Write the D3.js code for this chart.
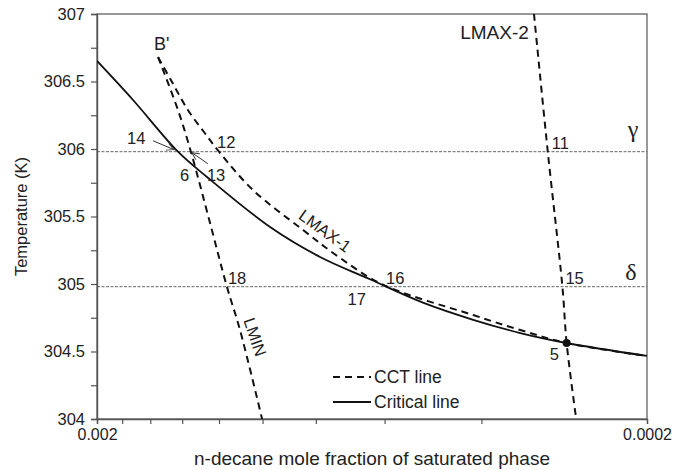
<!DOCTYPE html>
<html>
<head>
<meta charset="utf-8">
<script src="https://cdn.jsdelivr.net/npm/d3@7"></script>
<style>
  html, body { margin: 0; padding: 0; background: #fff; }
  svg { display: block; font-family: "Liberation Sans", Arial, sans-serif; }
</style>
</head>
<body>
<svg id="chart" width="686" height="470"></svg>
<script>
// Critical line of the mixture (solid)
const criticalX = [0.002, 0.00172, 0.001425, 0.001262, 0.000969, 0.000786, 0.000638, 0.000511, 0.000414, 0.00034, 0.00028, 0.0002];
const criticalT = [306.652, 306.363, 305.98, 305.793, 305.422, 305.2, 305.035, 304.862, 304.735, 304.637, 304.563, 304.467];

// CCT line branches (dashed)
const lminX = [0.001549, 0.001425, 0.00135, 0.001246, 0.001161, 0.001099, 0.001002];
const lminT = [306.681, 306.289, 305.98, 305.452, 304.98, 304.659, 304.0];

const lmax1X = [0.001549, 0.001461, 0.001367, 0.001278, 0.0012, 0.001041, 0.000844, 0.000723, 0.000604, 0.000414, 0.00034, 0.00028, 0.0002];
const lmax1T = [306.681, 306.496, 306.289, 306.126, 305.98, 305.696, 305.4, 305.193, 304.995, 304.77, 304.659, 304.563, 304.467];

const lmax2X = [0.000321, 0.000303, 0.000285, 0.00028, 0.000269];
const lmax2T = [307.0, 305.98, 304.98, 304.563, 304.0];

// Isotherms
const gammaT = 305.98;
const deltaT = 304.98;

// Axis ticks
const yTicks = [304, 304.25, 304.5, 304.75, 305, 305.25, 305.5, 305.75, 306, 306.25, 306.5, 306.75, 307];
const yTickLabels = ["304", "", "304.5", "", "305", "", "305.5", "", "306", "", "306.5", "", "307"];
const xTicks = [0.002, 0.0018, 0.0016, 0.0014, 0.0012, 0.001, 0.0008, 0.0006, 0.0004, 0.0002];
const xTickLabels = ["0.002", "", "", "", "", "", "", "", "", "0.0002"];

// Named state points: label, x, T
const pointNames = ["5", "6", "11", "12", "13", "14", "15", "16", "17", "18"];
const pointX = [0.00028, 0.001338, 0.000303, 0.0012, 0.00135, 0.001425, 0.000285, 0.000604, 0.000618, 0.001161];
const pointT = [304.563, 305.904, 305.98, 305.98, 305.98, 305.98, 304.98, 304.98, 304.98, 304.98];

const svg = d3.select("#chart");
const margin = { left: 97, right: 39, top: 14, bottom: 51 };
const W = 686, H = 470;

const x = d3.scaleLog().domain([0.002, 0.0002]).range([margin.left, W - margin.right]);
const y = d3.scaleLinear().domain([304, 307]).range([H - margin.bottom, margin.top]);

const axisColor = "#555";
const textColor = "#222";

svg.append("defs").append("clipPath").attr("id", "plot")
  .append("rect")
  .attr("x", x.range()[0]).attr("y", y.range()[1])
  .attr("width", x.range()[1] - x.range()[0])
  .attr("height", y.range()[0] - y.range()[1]);

svg.select("defs").append("marker")
  .attr("id", "arrow").attr("viewBox", "0 0 10 10")
  .attr("refX", 9).attr("refY", 5)
  .attr("markerWidth", 9).attr("markerHeight", 9)
  .attr("markerUnits", "userSpaceOnUse")
  .attr("orient", "auto")
  .append("path").attr("d", "M1,1 L9,5 L1,9")
  .attr("fill", "none").attr("stroke", "#333").attr("stroke-width", 1);

// Frame
svg.append("rect")
  .attr("x", x.range()[0]).attr("y", y.range()[1])
  .attr("width", x.range()[1] - x.range()[0])
  .attr("height", y.range()[0] - y.range()[1])
  .attr("fill", "none").attr("stroke", axisColor).attr("stroke-width", 1.2);

// Isotherms gamma and delta
[gammaT, deltaT].forEach(t => {
  svg.append("line")
    .attr("x1", x.range()[0]).attr("x2", x.range()[1])
    .attr("y1", y(t)).attr("y2", y(t))
    .attr("stroke", "#666").attr("stroke-width", 1)
    .attr("stroke-dasharray", "3,1.5");
});

// Axes
const yAxis = d3.axisLeft(y).tickValues(yTicks)
  .tickFormat((d, i) => yTickLabels[i]).tickSize(6).tickPadding(6);
const gy = svg.append("g").attr("transform", `translate(${x.range()[0]},0)`).call(yAxis);

const xAxis = d3.axisBottom(x).tickValues(xTicks)
  .tickFormat((d, i) => xTickLabels[i]).tickSize(5).tickPadding(5);
const gx = svg.append("g").attr("transform", `translate(0,${y.range()[0]})`).call(xAxis);

[gx, gy].forEach(g => {
  g.selectAll("path.domain").attr("stroke", axisColor).attr("stroke-width", 1.4);
  g.selectAll(".tick line").attr("stroke", axisColor).attr("stroke-width", 1.2);
  g.selectAll("text").attr("fill", textColor).attr("font-size", 16.5)
    .attr("font-family", "'Liberation Sans', Arial, sans-serif");
});
gx.selectAll("text").attr("font-size", 16);

// Axis titles
svg.append("text")
  .attr("x", 372).attr("y", 465)
  .attr("text-anchor", "middle").attr("font-size", 19).attr("fill", textColor)
  .text("n-decane mole fraction of saturated phase");

svg.append("text")
  .attr("transform", `translate(27,${(y.range()[0] + y.range()[1]) / 2}) rotate(-90)`)
  .attr("text-anchor", "middle").attr("font-size", 16.5).attr("fill", textColor)
  .text("Temperature (K)");

// Lines
const lineGen = d3.line().x(d => x(d[0])).y(d => y(d[1])).curve(d3.curveCatmullRom.alpha(0.5));
const zipXY = (xs, ts) => xs.map((v, i) => [v, ts[i]]);

const plot = svg.append("g").attr("clip-path", "url(#plot)");

const dashedSeries = [zipXY(lminX, lminT), zipXY(lmax1X, lmax1T), zipXY(lmax2X, lmax2T)];
plot.selectAll("path.cct").data(dashedSeries).join("path")
  .attr("class", "cct")
  .attr("d", lineGen)
  .attr("fill", "none").attr("stroke", "#111").attr("stroke-width", 2)
  .attr("stroke-dasharray", "7,5");

plot.append("path")
  .datum(zipXY(criticalX, criticalT))
  .attr("d", lineGen)
  .attr("fill", "none").attr("stroke", "#111").attr("stroke-width", 1.8);

// Point 5: critical endpoint shared by the branches
const p5 = pointNames.indexOf("5");
svg.append("circle")
  .attr("cx", x(pointX[p5])).attr("cy", y(pointT[p5])).attr("r", 4)
  .attr("fill", "#111");

// Point labels with pixel offsets from their state points
const labelOffsets = {
  "5": [-17, 17], "6": [-13, 19], "11": [4, -3], "12": [-2, -4], "13": [16, 29],
  "14": [-51, -8], "15": [3, -3], "16": [3, -3], "17": [-30, 18], "18": [1, -3]
};
pointNames.forEach((name, i) => {
  const off = labelOffsets[name];
  svg.append("text")
    .attr("x", x(pointX[i]) + off[0]).attr("y", y(pointT[i]) + off[1])
    .attr("font-size", 16.5).attr("fill", textColor)
    .text(name);
});

// Pointer arrows for 14 and 13
const i14 = pointNames.indexOf("14");
svg.append("line")
  .attr("x1", x(pointX[i14]) - 25).attr("y1", y(pointT[i14]) - 11)
  .attr("x2", x(pointX[i14]) - 4).attr("y2", y(pointT[i14]) - 2)
  .attr("stroke", "#333").attr("stroke-width", 1).attr("marker-end", "url(#arrow)");
const i13 = pointNames.indexOf("13");
svg.append("line")
  .attr("x1", x(pointX[i13]) + 17).attr("y1", y(pointT[i13]) + 12)
  .attr("x2", x(pointX[i13]) + 1).attr("y2", y(pointT[i13]) + 1)
  .attr("stroke", "#333").attr("stroke-width", 1).attr("marker-end", "url(#arrow)");

// Branch names
svg.append("text")
  .attr("x", x(0.001575)).attr("y", y(306.733))
  .attr("font-size", 18).attr("fill", textColor).text("B'");

svg.append("text")
  .attr("x", x(0.000328)).attr("y", y(306.815))
  .attr("text-anchor", "end").attr("font-size", 19).attr("fill", textColor).text("LMAX-2");

svg.append("text")
  .attr("transform", `translate(${x(0.00077)},${y(305.393)}) rotate(36)`)
  .attr("text-anchor", "middle").attr("dy", "0.35em")
  .attr("font-size", 16.5).attr("fill", textColor).text("LMAX-1");

svg.append("text")
  .attr("transform", `translate(${x(0.001032)},${y(304.607)}) rotate(71)`)
  .attr("text-anchor", "middle").attr("dy", "0.35em")
  .attr("font-size", 16.5).attr("fill", textColor).text("LMIN");

// Isotherm symbols
svg.append("text")
  .attr("x", x.range()[1] - 14).attr("y", y(gammaT) - 15)
  .attr("text-anchor", "middle").attr("font-size", 24).attr("fill", textColor)
  .attr("font-family", "'Liberation Serif', 'DejaVu Serif', serif")
  .text("γ");
svg.append("text")
  .attr("x", x.range()[1] - 16).attr("y", y(deltaT) - 7)
  .attr("text-anchor", "middle").attr("font-size", 24).attr("fill", textColor)
  .attr("font-family", "'Liberation Serif', 'DejaVu Serif', serif")
  .text("δ");

// Legend
const legend = svg.append("g").attr("transform", "translate(333,377)");
const legendItems = [
  { label: "CCT line", dash: "7,5", width: 2 },
  { label: "Critical line", dash: null, width: 1.8 }
];
legendItems.forEach((d, i) => {
  const g = legend.append("g").attr("transform", `translate(0,${i * 25})`);
  g.append("line").attr("x1", 0).attr("x2", 38).attr("y1", 0).attr("y2", 0)
    .attr("stroke", "#111").attr("stroke-width", d.width)
    .attr("stroke-dasharray", d.dash);
  g.append("text").attr("x", 41).attr("y", 0).attr("dy", "0.35em")
    .attr("font-size", 17.5).attr("fill", textColor).text(d.label);
});
</script>
</body>
</html>
